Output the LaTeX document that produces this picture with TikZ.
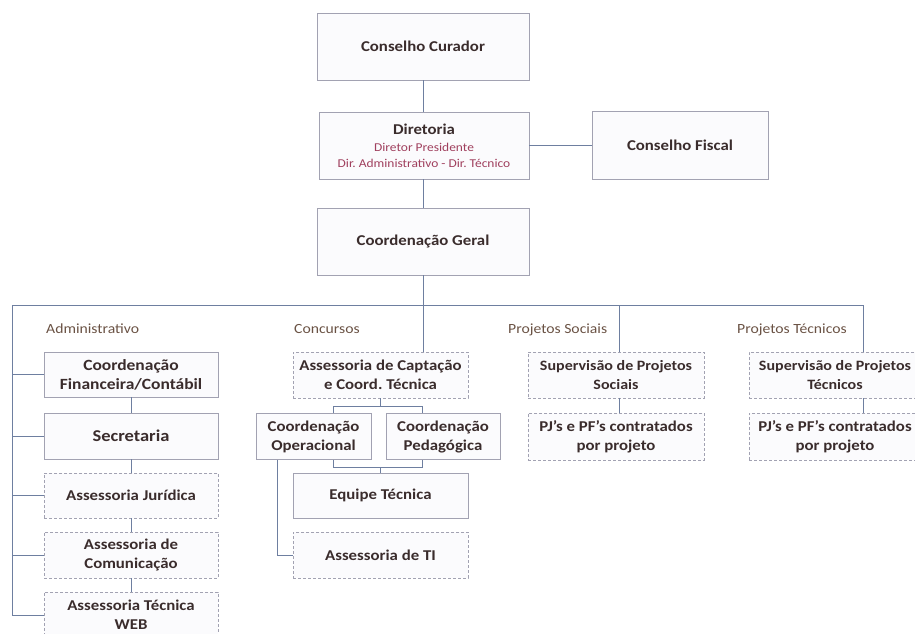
\documentclass[tikz,border=0pt]{standalone}
\usepackage{fontspec}
\setmainfont{Carlito}[FakeStretch=1.12]
\frenchspacing
\definecolor{boxline}{HTML}{A2A2B2}
\definecolor{conn}{HTML}{6E7FA0}
\definecolor{boxtext}{HTML}{3A2C2C}
\definecolor{lbltext}{HTML}{6A5244}
\definecolor{subtext}{HTML}{A0405E}
\definecolor{boxfill}{HTML}{FBFBFD}
\tikzset{
  base/.style={draw=boxline, fill=boxfill, line width=0.9pt, inner sep=0pt, align=center,
    text=boxtext, font=\fontsize{15}{19}\selectfont\bfseries},
  solidbox/.style={base},
  dashbox/.style={base, dash pattern=on 3pt off 2pt},
  bigtext/.style={font=\fontsize{16.5}{19}\selectfont\bfseries},
  midtext/.style={font=\fontsize{15.6}{19}\selectfont\bfseries},
  smalltext/.style={font=\fontsize{14.3}{19}\selectfont\bfseries},
  conline/.style={draw=conn, line width=1pt},
  grp/.style={anchor=west, inner sep=0pt, text=lbltext, font=\fontsize{14}{16}\selectfont}
}
\begin{document}
\begin{tikzpicture}[x=1pt,y=-1pt]
\useasboundingbox (0,0) rectangle (915,633);
\clip (0,0) rectangle (915,633);
% top
\node[solidbox, minimum width=212pt, minimum height=67pt] (curador) at (423,46.5) {Conselho Curador};
\node[solidbox, minimum width=210pt, minimum height=67pt] (diretoria) at (424,145.5)
  {Diretoria\\[-2pt]{\fontsize{12}{15}\selectfont\mdseries\color{subtext}Diretor Presidente}\\[-3pt]
   {\fontsize{12}{15}\selectfont\mdseries\color{subtext}Dir. Administrativo - Dir. Técnico}};
\node[solidbox, minimum width=176pt, minimum height=68pt] (fiscal) at (680,145.5) {Conselho Fiscal};
\node[solidbox, minimum width=212pt, minimum height=67pt] (geral) at (423,241.5) {Coordenação Geral};
% administrativo
\node[solidbox, midtext, minimum width=174pt, minimum height=45pt] (finc) at (131,374.5) {Coordenação\\Financeira/Contábil};
\node[solidbox, bigtext, minimum width=174pt, minimum height=46pt] (secr) at (131,436) {Secretaria};
\node[dashbox, minimum width=174pt, minimum height=45pt] (jur) at (131,495.5) {Assessoria Jurídica};
\node[dashbox, minimum width=174pt, minimum height=46pt] (com) at (131,555) {Assessoria de\\Comunicação};
\node[dashbox, minimum width=174pt, minimum height=46pt] (web) at (131,615) {Assessoria Técnica\\WEB};
% concursos
\node[dashbox, minimum width=175pt, minimum height=46pt] (capt) at (380.5,375) {Assessoria de Captação\\e Coord. Técnica};
\node[solidbox, minimum width=115pt, minimum height=46pt] (oper) at (313.5,436.5) {Coordenação\\Operacional};
\node[solidbox, minimum width=114pt, minimum height=46pt] (ped) at (443,436.5) {Coordenação\\Pedagógica};
\node[solidbox, minimum width=175pt, minimum height=45pt] (equipe) at (380.5,495.5) {Equipe Técnica};
\node[dashbox, minimum width=175pt, minimum height=46pt] (ti) at (380.5,555) {Assessoria de TI};
% projetos sociais
\node[dashbox, smalltext, minimum width=176pt, minimum height=46pt] (sup1) at (616,375) {Supervisão de Projetos\\Sociais};
\node[dashbox, minimum width=176pt, minimum height=47pt] (pj1) at (616,436.5) {PJ’s e PF’s contratados\\por projeto};
% projetos tecnicos
\node[dashbox, smalltext, minimum width=172pt, minimum height=46pt] (sup2) at (835,375) {Supervisão de Projetos\\Técnicos};
\node[dashbox, minimum width=172pt, minimum height=47pt] (pj2) at (835,436.5) {PJ’s e PF’s contratados\\por projeto};
% group labels
\node[grp] (lAdm) at (46,329) {Administrativo};
\node[grp] (lCon) at (294,329) {Concursos};
\node[grp] (lSoc) at (508,330) {Projetos Sociais};
\node[grp] (lTec) at (737,330) {Projetos Técnicos};
% coordinates
\coordinate (busL) at (12,305);
\coordinate (busR) at (863,305);
\coordinate (ps) at (619,305);
\coordinate (bl) at (333,406);
\coordinate (br) at (422,406);
\coordinate (cl) at (333,467);
\coordinate (cr) at (422,467);
\coordinate (tiL) at (277,467);
% connectors
\draw[conline] (curador.south) -- (diretoria.north -| curador.south);
\draw[conline] (diretoria.east) -- (fiscal.west);
\draw[conline] (diretoria.south -| curador.south) -- (geral.north);
\draw[conline] (geral.south) -- (geral.south |- capt.north);
\draw[conline] (busL) -- (busR);
\draw[conline] (busR) -- (busR |- sup2.north);
\draw[conline] (ps) -- (ps |- sup1.north);
\draw[conline] (sup1.south -| ps) -- (pj1.north -| ps);
\draw[conline] (sup2.south -| busR) -- (pj2.north -| busR);
\draw[conline] (busL) |- (web.west);
\draw[conline] (busL |- finc.west) -- (finc.west);
\draw[conline] (busL |- secr.west) -- (secr.west);
\draw[conline] (busL |- jur.west) -- (jur.west);
\draw[conline] (busL |- com.west) -- (com.west);
\draw[conline] (finc.south) -- (secr.north);
\draw[conline] (secr.south) -- (jur.north);
\draw[conline] (jur.south) -- (com.north);
\draw[conline] (com.south) -- (web.north);
\draw[conline] (capt.south) -- (capt.south |- bl);
\draw[conline] (oper.north -| bl) |- (br) -- (ped.north -| br);
\draw[conline] (oper.south -| cl) |- (cr) -- (ped.south -| cr);
\draw[conline] (equipe.north) -- (equipe.north |- cl);
\draw[conline] (oper.south -| tiL) |- (ti.west);
\end{tikzpicture}
\end{document}
